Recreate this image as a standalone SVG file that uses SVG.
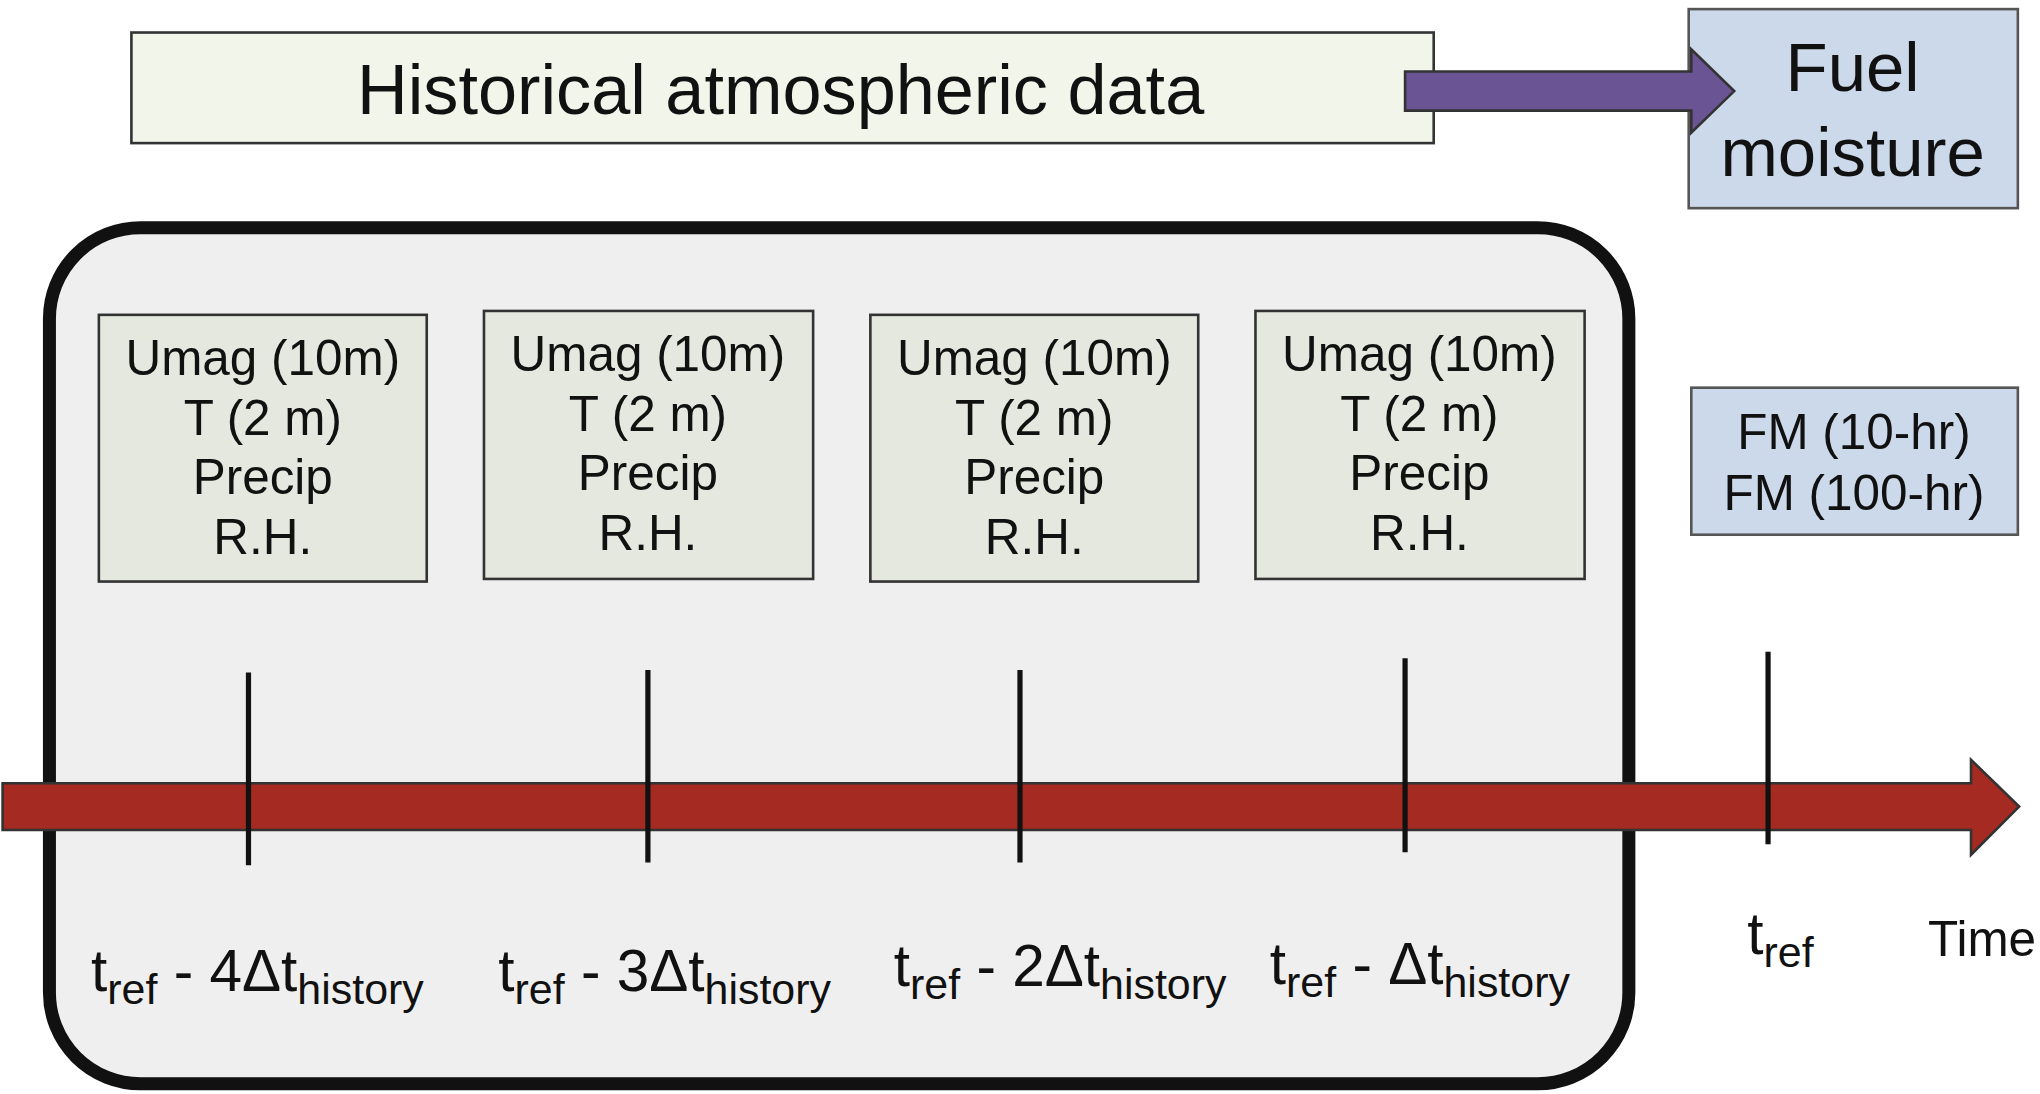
<svg xmlns="http://www.w3.org/2000/svg" width="2040" height="1094" viewBox="0 0 2040 1094">
<style>
text{font-family:"Liberation Sans",Arial,sans-serif;fill:#111}
.v{font-size:38px;text-anchor:middle}
.ib{fill:#e5e8df;stroke:#333;stroke-width:2}
.tk{stroke:#111;stroke-width:4}
.lb{font-size:45px}
.sb{font-size:33px}
</style>
<rect width="2040" height="1094" fill="#fff"/>
<g transform="scale(1.301)">
<g id="hist"><rect x="101" y="25" width="1001" height="85" fill="#f2f6ea" stroke="#333" stroke-width="2"/>
<text x="600" y="88" font-size="54" text-anchor="middle">Historical atmospheric data</text></g>
<g id="window"><rect x="38" y="175" width="1214" height="658" rx="70" fill="#efefef" stroke="#111" stroke-width="10"/></g>
<g id="fuel"><rect x="1298" y="7" width="253" height="153" fill="#ccd9ea" stroke="#555" stroke-width="2"/>
<text x="1424" y="70" font-size="53" text-anchor="middle">Fuel</text>
<text x="1424" y="135" font-size="53" text-anchor="middle">moisture</text></g>
<g id="connectors">
<polygon points="1080,55 1300,55 1300,38 1333,70 1300,102 1300,85 1080,85" fill="#6a5494" stroke="#333" stroke-width="2"/>
<polygon points="2,602 1515,602 1515,584 1552,620 1515,657 1515,638 2,638" fill="#a52a22" stroke="#333" stroke-width="2"/>
<line class="tk" x1="191" y1="517" x2="191" y2="665"/>
<line class="tk" x1="498" y1="515" x2="498" y2="663"/>
<line class="tk" x1="784" y1="515" x2="784" y2="663"/>
<line class="tk" x1="1080" y1="506" x2="1080" y2="655"/>
<line class="tk" x1="1359" y1="501" x2="1359" y2="649"/>
</g>
<g id="b1"><rect class="ib" x="76" y="242" width="252" height="205"/>
<text class="v" x="202" y="288">Umag (10m)</text><text class="v" x="202" y="334">T (2 m)</text><text class="v" x="202" y="380">Precip</text><text class="v" x="202" y="426">R.H.</text></g>
<g id="b2"><rect class="ib" x="372" y="239" width="253" height="206"/>
<text class="v" x="498" y="285">Umag (10m)</text><text class="v" x="498" y="331">T (2 m)</text><text class="v" x="498" y="377">Precip</text><text class="v" x="498" y="423">R.H.</text></g>
<g id="b3"><rect class="ib" x="669" y="242" width="252" height="205"/>
<text class="v" x="795" y="288">Umag (10m)</text><text class="v" x="795" y="334">T (2 m)</text><text class="v" x="795" y="380">Precip</text><text class="v" x="795" y="426">R.H.</text></g>
<g id="b4"><rect class="ib" x="965" y="239" width="253" height="206"/>
<text class="v" x="1091" y="285">Umag (10m)</text><text class="v" x="1091" y="331">T (2 m)</text><text class="v" x="1091" y="377">Precip</text><text class="v" x="1091" y="423">R.H.</text></g>
<g id="fm"><rect x="1300" y="298" width="251" height="113" fill="#ccd9ea" stroke="#555" stroke-width="2"/>
<text class="v" x="1425" y="345">FM (10-hr)</text><text class="v" x="1425" y="392">FM (100-hr)</text></g>
<g id="labels">
<text class="lb" x="70" y="762">t<tspan class="sb" dy="10">ref</tspan><tspan dy="-10"> - 4Δt</tspan><tspan class="sb" dy="10">history</tspan></text>
<text class="lb" x="383" y="762">t<tspan class="sb" dy="10">ref</tspan><tspan dy="-10"> - 3Δt</tspan><tspan class="sb" dy="10">history</tspan></text>
<text class="lb" x="687" y="758">t<tspan class="sb" dy="10">ref</tspan><tspan dy="-10"> - 2Δt</tspan><tspan class="sb" dy="10">history</tspan></text>
<text class="lb" x="976" y="756">t<tspan class="sb" dy="10">ref</tspan><tspan dy="-10"> - Δt</tspan><tspan class="sb" dy="10">history</tspan></text>
<text class="lb" x="1343" y="733">t<tspan class="sb" dy="10">ref</tspan></text>
<text x="1482" y="735" font-size="38">Time</text>
</g>
</g>
</svg>
